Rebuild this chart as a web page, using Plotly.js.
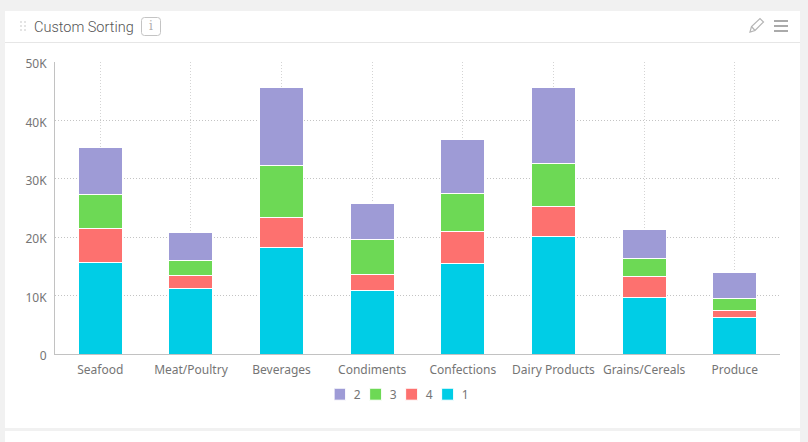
<!DOCTYPE html>
<html>
<head>
<meta charset="utf-8">
<script src="https://cdn.plot.ly/plotly-3.0.1.min.js"></script>
<style>
  html, body { margin: 0; padding: 0; background: #f1f1f1; overflow: hidden; }
  #page { position: relative; width: 808px; height: 442px; }
  .card { position: absolute; background: #fff; }
  #chart { position: absolute; left: 0; top: 0; width: 808px; height: 442px; }
  #icons { position: absolute; left: 0; top: 0; pointer-events: none; }
</style>
</head>
<body>
<div id="page">
  <div class="card" style="left:5px; top:11px; width:795px; height:417px;"></div>
  <div class="card" style="left:5px; top:431px; width:795px; height:11px;"></div>
  <div style="position:absolute; left:5px; top:42px; width:795px; height:1px; background:#e6e6e6;"></div>
  <div id="chart"></div>
  <svg id="icons" width="808" height="442">
    <g fill="#e4e4e4">
      <rect x="20" y="21" width="2" height="2"/><rect x="24" y="21" width="2" height="2"/>
      <rect x="20" y="25" width="2" height="2"/><rect x="24" y="25" width="2" height="2"/>
      <rect x="20" y="29" width="2" height="2"/><rect x="24" y="29" width="2" height="2"/>
    </g>
    <rect x="141.5" y="17.5" width="19" height="18" rx="3" fill="none" stroke="#c4c4c4"/>
    <g fill="none" stroke="#b5b5b5" stroke-width="1.2">
      <path d="M750 32 L751.5 26.5 L760 18.5 L763.5 22 L755 30.5 Z"/>
      <path d="M751.5 26.5 L755 30.5"/>
    </g>
    <g fill="#aaaaaa">
      <rect x="774" y="20" width="14" height="2"/>
      <rect x="774" y="25" width="14" height="2"/>
      <rect x="774" y="30" width="14" height="2"/>
    </g>
  </svg>
</div>
<script>
const categories = ['Seafood', 'Meat/Poultry', 'Beverages', 'Condiments', 'Confections', 'Dairy Products', 'Grains/Cereals', 'Produce']
const series1 = [15750, 11300, 18200, 10900, 15500, 20100, 9700, 6250]
const series4 = [5750, 2200, 5200, 2700, 5500, 5200, 3500, 1200]
const series3 = [5800, 2500, 8900, 6000, 6500, 7300, 3200, 2050]
const series2 = [8100, 4800, 13400, 6200, 9250, 13050, 4900, 4450]
const yTicks = [0, 10000, 20000, 30000, 40000, 50000]
const yLabels = ['0', '10K', '20K', '30K', '40K', '50K']

const bar = (name, y, color) => ({
  type: 'bar',
  name,
  x: categories,
  y,
  width: 0.485,
  marker: { color, line: { color: '#ffffff', width: 1 } },
})

const data = [
  bar('1', series1, '#00cde6'),
  bar('4', series4, '#fd716f'),
  bar('3', series3, '#6dd955'),
  bar('2', series2, '#9e9bd6'),
]

const tickFont = { family: '"Noto Sans", sans-serif', size: 12, color: '#757575' }
const gridDash = '1px,2px'

const layout = {
  width: 808,
  height: 442,
  barmode: 'stack',
  paper_bgcolor: 'rgba(0,0,0,0)',
  plot_bgcolor: 'rgba(0,0,0,0)',
  margin: { l: 54.5, r: 28, t: 62, b: 88, pad: 0 },
  title: {
    text: 'Custom Sorting',
    font: { family: 'Roboto, sans-serif', size: 14.5, weight: 300, color: '#555555' },
    xref: 'container', yref: 'container',
    x: 34 / 808, xanchor: 'left',
    y: 1 - 26.5 / 442, yanchor: 'middle',
  },
  showlegend: true,
  legend: {
    orientation: 'h',
    traceorder: 'reversed',
    x: 0.485, xanchor: 'center',
    xref: 'paper', yref: 'paper',
    y: -0.088, yanchor: 'top',
    font: tickFont,
    indentation: -15,
    entrywidth: 6,
    entrywidthmode: 'pixels',
    itemclick: false,
  },
  xaxis: {
    type: 'category',
    tickfont: tickFont,
    ticks: '',
    ticklabelstandoff: 5,
    showline: true,
    linecolor: '#c2c2c2',
    linewidth: 1,
    showgrid: true,
    griddash: gridDash,
    gridcolor: '#d4d4d4',
    gridwidth: 1,
    zeroline: false,
  },
  yaxis: {
    range: [0, 50000],
    tickvals: yTicks,
    ticktext: yLabels,
    tickfont: tickFont,
    ticks: '',
    ticklabelstandoff: 5,
    ticklabelshift: 2,
    showline: true,
    linecolor: '#c2c2c2',
    linewidth: 1,
    showgrid: true,
    griddash: gridDash,
    gridcolor: '#c4c4c4',
    gridwidth: 1,
    zeroline: false,
  },
  annotations: [{
    text: 'i',
    xref: 'paper', yref: 'paper',
    x: (151 - 54.5) / 725.5, y: (354 - 26.5) / 292,
    xanchor: 'center', yanchor: 'middle',
    showarrow: false,
    font: { family: '"DejaVu Serif", serif', size: 12, color: '#b0b0b0' },
  }],
}

const config = { displayModeBar: false, responsive: false }

Plotly.newPlot('chart', data, layout, config).then(() => {
  // plotly keeps a wide gap after the swatch, pull the legend text closer
  document.querySelectorAll('#chart .legendtext').forEach(t => {
    t.setAttribute('x', Number(t.getAttribute('x')) - 6)
  })
})
</script>
</body>
</html>
